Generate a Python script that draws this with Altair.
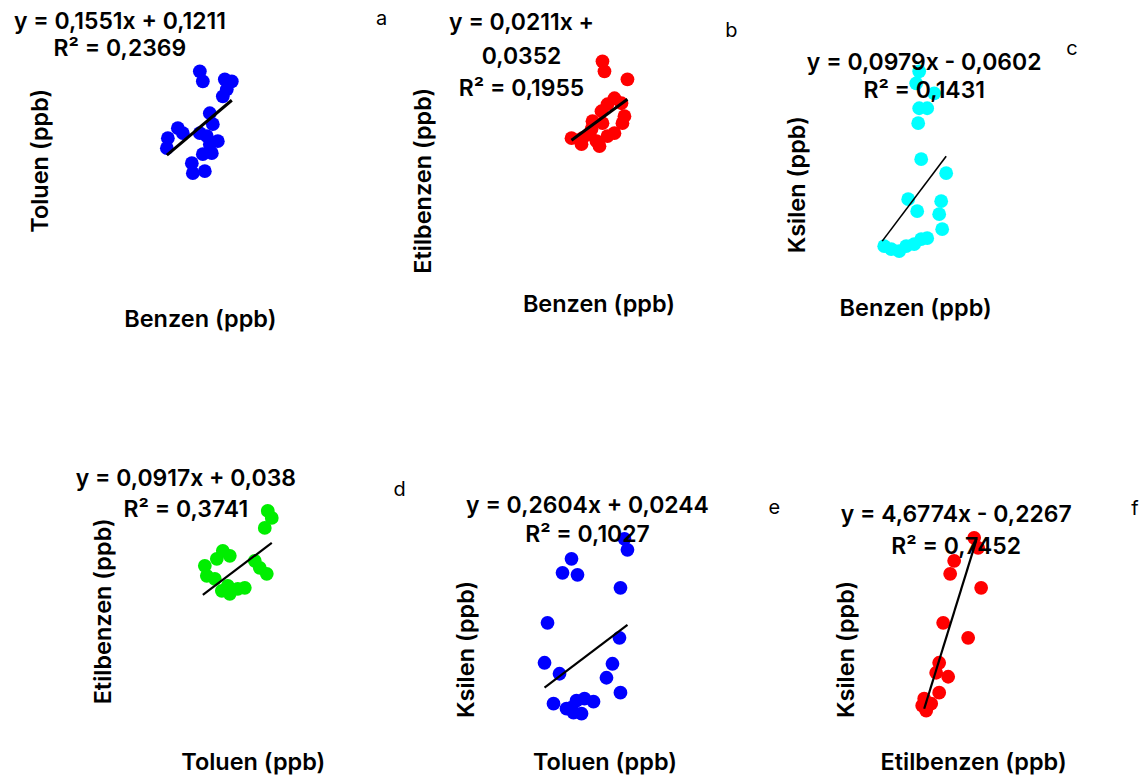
import altair as alt
import pandas as pd

FONT = "Inter"

# ---------------- data (relative units) ----------------
# a: Toluen vs Benzen
a_benzen = [19.2, 19.5, 21.7, 22.4, 21.9, 21.5, 20.2, 20.5, 17.0, 17.5, 16.0,
            15.9, 19.2, 19.9, 21.0, 20.2, 19.5, 20.4, 18.4, 18.5, 19.7]
a_toluen = [33.0, 32.0, 32.2, 32.0, 31.2, 30.5, 28.8, 27.7, 27.3, 26.8, 26.3,
            25.3, 26.8, 26.5, 26.0, 25.7, 24.7, 24.8, 23.8, 22.8, 23.0]
a_fit_x = [15.9, 22.4]
a_fit_y = [24.6, 30.1]
a_eq = ["y = 0,1551x + 0,1211", "R² = 0,2369"]

# b: Etilbenzen vs Benzen
b_benzen = [19.3, 19.5, 21.8, 20.5, 19.8, 21.2, 21.5, 21.3, 19.2, 18.3,
            19.3, 18.2, 16.2, 17.3, 18.7, 19.8, 20.5, 19.0, 17.2, 18.0]
b_etilbenzen = [34.0, 33.0, 32.2, 30.3, 29.7, 29.8, 28.5, 27.8, 29.0, 28.0,
                27.8, 27.2, 26.3, 26.3, 26.0, 26.5, 26.8, 25.5, 25.7, 26.7]
b_fit_x = [16.2, 21.8]
b_fit_y = [26.1, 30.2]
b_eq = ["y = 0,0211x +", "0,0352", "R² = 0,1955"]

# c: Ksilen vs Benzen
c_benzen = [13.6, 13.3, 15.1, 13.6, 14.4, 13.5, 13.8, 16.3, 12.5, 13.4,
            15.8, 15.6, 15.9, 10.1, 10.8, 11.6, 12.3, 13.1, 13.8, 14.4]
c_ksilen = [33.0, 31.8, 30.8, 29.3, 29.3, 27.8, 24.2, 22.8, 20.2, 19.0,
            20.0, 18.7, 17.2, 15.5, 15.2, 15.0, 15.5, 15.7, 16.2, 16.3]
c_fit_x = [9.9, 16.3]
c_fit_y = [16.0, 24.5]
c_eq = ["y = 0,0979x - 0,0602", "R² = 0,1431"]

# d: Etilbenzen vs Toluen
d_toluen = [26.0, 26.4, 25.7, 21.5, 22.2, 20.9, 19.7, 19.9, 20.7, 24.7,
            25.2, 25.9, 21.4, 22.2, 23.0, 23.7, 22.0]
d_etilbenzen = [26.4, 25.7, 24.7, 22.4, 21.9, 21.6, 20.9, 19.9, 19.6, 21.4,
                20.7, 20.1, 18.4, 18.1, 18.6, 18.7, 18.9]
d_fit_x = [19.5, 26.4]
d_fit_y = [18.0, 23.2]
d_eq = ["y = 0,0917x + 0,038", "R² = 0,3741"]

# e: Ksilen vs Toluen
e_toluen = [21.5, 21.8, 16.2, 15.3, 16.8, 21.1, 13.8, 21.0, 13.5, 15.0, 20.3,
            19.7, 21.1, 14.4, 15.7, 16.7, 17.5, 18.4, 16.4, 17.2, 16.2]
e_ksilen = [23.6, 22.5, 21.6, 20.2, 20.0, 18.7, 15.2, 13.7, 11.2, 10.1, 11.1,
            9.7, 8.2, 7.1, 6.6, 7.4, 7.6, 7.3, 6.2, 6.1, 6.7]
e_fit_x = [13.5, 21.8]
e_fit_y = [8.7, 15.0]
e_eq = ["y = 0,2604x + 0,0244", "R² = 0,1027"]

# f: Ksilen vs Etilbenzen
f_etilbenzen = [19.1, 19.5, 17.1, 16.7, 19.8, 16.0, 18.5, 15.6, 15.3, 16.5,
                15.6, 14.1, 14.8, 14.3, 13.9]
f_ksilen = [23.7, 22.7, 21.4, 20.1, 18.7, 15.2, 13.7, 11.2, 10.2, 9.8,
            8.2, 7.6, 7.1, 6.4, 6.9]
f_fit_x = [14.1, 19.3]
f_fit_y = [6.6, 23.4]
f_eq = ["y = 4,6774x - 0,2267", "R² = 0,7452"]

letters = ["a", "b", "c", "d", "e", "f"]


def panel(xs, ys, color, fit_x, fit_y, fit_w, eq, eq_x, eq_y, letter, letter_x,
          letter_y, xtitle, ytitle, w, h, xt, yt):
    sx = alt.Scale(domain=[0, w / 10], nice=False, zero=False)
    sy = alt.Scale(domain=[0, h / 10], nice=False, zero=False)
    common = dict(domain=False, ticks=False, labels=False, grid=False,
                  titleFont=FONT, titleFontSize=23.5, titleFontWeight=600,
                  titleColor="black", titleAlign="center",
                  titleBaseline="middle", minExtent=0)
    xaxis = alt.Axis(title=xtitle, titleX=xt[0], titleY=xt[1], **common)
    yaxis = alt.Axis(title=ytitle, titleX=yt[0], titleY=yt[1], titleAngle=270,
                     **common)
    X = alt.X("x:Q", scale=sx, axis=xaxis, title=xtitle)
    Y = alt.Y("y:Q", scale=sy, axis=yaxis, title=ytitle)
    pts = alt.Chart(pd.DataFrame({"x": xs, "y": ys})).mark_circle(
        size=190, opacity=1, color=color
    ).encode(x=X, y=Y)
    fit = alt.Chart(pd.DataFrame({"x": fit_x, "y": fit_y})).mark_line(
        color="black", strokeWidth=fit_w
    ).encode(x=X, y=Y)
    eq_df = pd.DataFrame({"x": [eq_x] * len(eq), "y": eq_y, "t": eq})
    eqt = alt.Chart(eq_df).mark_text(
        font=FONT, fontSize=23, fontWeight=600, color="black",
        align="center", baseline="middle"
    ).encode(x=X, y=Y, text="t:N")
    let = alt.Chart(pd.DataFrame({"x": [letter_x], "y": [letter_y],
                                  "t": [letter]})).mark_text(
        font=FONT, fontSize=20, fontWeight="normal", color="black",
        align="center", baseline="middle"
    ).encode(x=X, y=Y, text="t:N")
    return alt.layer(pts, fit, eqt, let).properties(width=w, height=h)


pa = panel(a_benzen, a_toluen, "#0000ff", a_fit_x, a_fit_y, 3, a_eq, 11.2,
           [37.95, 35.25], letters[0], 37.4, 38.2, "Benzen (ppb)",
           "Toluen (ppb)", 402, 392, (192, -82), (33, 151))
pb = panel(b_benzen, b_etilbenzen, "#ff0000", b_fit_x, b_fit_y, 3, b_eq, 11.2,
           [37.8, 34.4, 31.2], letters[1], 32.2, 37.0, "Benzen (ppb)",
           "Etilbenzen (ppb)", 374, 392, (189, -97), (14, 171))
pc = panel(c_benzen, c_ksilen, "#00ffff", c_fit_x, c_fit_y, 1.6, c_eq, 14.1,
           [33.8, 31.0], letters[2], 28.9, 35.2, "Benzen (ppb)",
           "Ksilen (ppb)", 355, 392, (132, -93), (14, 175))
pd_ = panel(d_toluen, d_etilbenzen, "#00ee00", d_fit_x, d_fit_y, 2.2, d_eq,
            17.8, [29.6, 26.5], letters[3], 39.2, 28.5, "Toluen (ppb)",
            "Etilbenzen (ppb)", 402, 374, (245, -12), (96, 210))
pe = panel(e_toluen, e_ksilen, "#0000ff", e_fit_x, e_fit_y, 2.2, e_eq, 17.8,
           [26.9, 24.0], letters[4], 36.5, 26.7, "Toluen (ppb)",
           "Ksilen (ppb)", 374, 374, (195, -12), (57, 248))
pf = panel(f_etilbenzen, f_ksilen, "#ff0000", f_fit_x, f_fit_y, 2.2, f_eq, 17.3,
           [26.0, 22.8], letters[5], 35.2, 26.6, "Etilbenzen (ppb)",
           "Ksilen (ppb)", 355, 374, (190, -12), (63, 248))

chart = alt.vconcat(
    alt.hconcat(pa, pb, pc, spacing=0),
    alt.hconcat(pd_, pe, pf, spacing=0),
    spacing=0,
).properties(padding=0, background="white").configure_view(stroke=None)

chart.save("out.html", embed_options={"renderer": "svg", "actions": False})
